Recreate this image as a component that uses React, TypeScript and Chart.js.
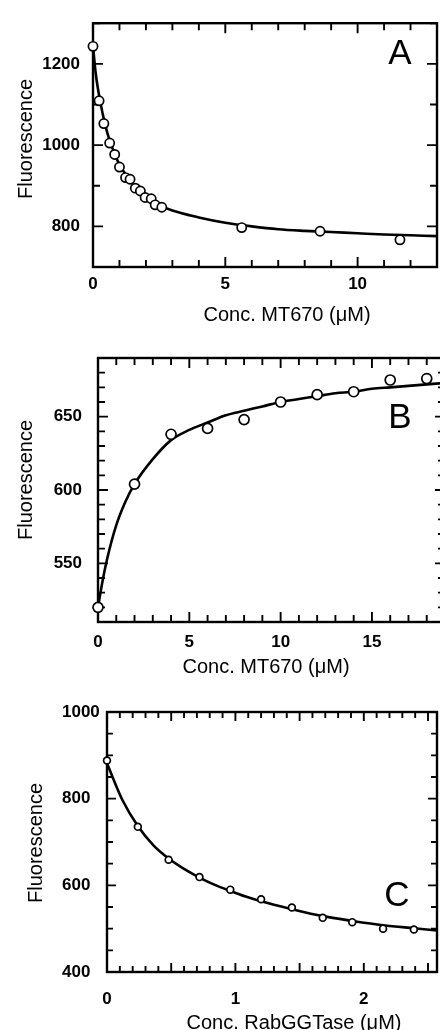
import React, { useEffect, useRef } from "react";
import { Chart, registerables } from "chart.js";

Chart.register(...registerables);

const FONT = '"Liberation Sans", Arial, Helvetica, sans-serif';

// ---------- Panel A ----------
const A_X = [0, 0.23, 0.41, 0.63, 0.82, 1.0, 1.23, 1.4, 1.6, 1.79, 1.97, 2.2, 2.35, 2.6, 5.62, 8.58, 11.6];
const A_Y = [1243, 1109, 1053, 1005, 977, 946, 920, 916, 894, 887, 871, 868, 853, 847, 797, 788, 767];
const A_FIT_X = [0, 0.1, 0.25, 0.5, 0.75, 1, 1.5, 2, 2.5, 3, 4, 5, 6, 7, 8, 9, 10, 11, 12, 13];
const A_FIT_Y = [1245, 1178, 1115, 1040, 990, 952, 906, 876, 853, 839, 822, 809, 800, 793, 789, 786, 783, 780, 778, 776];
const A_X_TICKS = [0, 5, 10];
const A_Y_TICKS = [800, 1000, 1200];

// ---------- Panel B ----------
const B_X = [0, 2, 4, 6, 8, 10, 12, 14, 16, 18];
const B_Y = [520, 604, 638, 642, 648, 660, 665, 667, 675, 676];
const B_FIT_X = [0, 0.25, 0.5, 1, 1.5, 2, 3, 4, 5, 6, 7, 8, 9, 10, 11, 12, 13, 14, 15, 16, 17, 18, 19];
const B_FIT_Y = [520, 538, 553, 576, 592, 604, 621, 634, 641, 646, 651, 654, 657, 660, 662, 664, 666, 667, 669, 670, 671, 672, 673];
const B_X_TICKS = [0, 5, 10, 15];
const B_Y_TICKS = [550, 600, 650];

// ---------- Panel C ----------
const C_X = [0, 0.24, 0.48, 0.72, 0.96, 1.2, 1.44, 1.68, 1.91, 2.15, 2.39];
const C_Y = [888, 735, 659, 619, 590, 568, 549, 525, 515, 500, 498];
const C_FIT_X = [0, 0.05, 0.12, 0.24, 0.36, 0.48, 0.6, 0.72, 0.84, 0.96, 1.08, 1.2, 1.44, 1.68, 1.91, 2.15, 2.39, 2.57];
const C_FIT_Y = [882, 845, 797, 737, 693, 662, 638, 618, 601, 587, 574, 563, 545, 529, 518, 508, 501, 496];
const C_X_TICKS = [0, 1, 2];
const C_Y_TICKS = [400, 600, 800, 1000];

const X_TITLE_MT = "Conc. MT670 (\u03bcM)";
const X_TITLE_RAB = "Conc. RabGGTase (\u03bcM)";
const Y_TITLE = "Fluorescence";

const toPts = (xs: number[], ys: number[]) => xs.map((x, i) => ({ x, y: ys[i] }));

const frameTicksPlugin = {
  id: "frameTicks",
  beforeDatasetsDraw(chart: any, _args: any, opts: any) {
    const { ctx, chartArea } = chart;
    const { left, right, top, bottom } = chartArea;
    const xs = chart.scales.x;
    const ys = chart.scales.y;
    ctx.save();
    ctx.strokeStyle = "#000";
    ctx.lineCap = "butt";
    ctx.lineWidth = opts.tickWidth;
    const isMult = (v: number, s: number) => Math.abs(v / s - Math.round(v / s)) < 1e-6;
    const xk0 = Math.ceil(xs.min / opts.xMinor - 1e-9);
    const xk1 = Math.floor(xs.max / opts.xMinor + 1e-9);
    for (let k = xk0; k <= xk1; k++) {
      const v = k * opts.xMinor;
      const len = isMult(v, opts.xMajor) ? opts.majorLen : opts.minorLen;
      const px = xs.getPixelForValue(v);
      ctx.beginPath();
      ctx.moveTo(px, bottom);
      ctx.lineTo(px, bottom - len);
      ctx.moveTo(px, top);
      ctx.lineTo(px, top + len);
      ctx.stroke();
    }
    const yk0 = Math.ceil(ys.min / opts.yMinor - 1e-9);
    const yk1 = Math.floor(ys.max / opts.yMinor + 1e-9);
    for (let k = yk0; k <= yk1; k++) {
      const v = k * opts.yMinor;
      const len = isMult(v, opts.yMajor) ? opts.majorLen : opts.minorLen;
      const py = ys.getPixelForValue(v);
      ctx.beginPath();
      ctx.moveTo(left, py);
      ctx.lineTo(left + len, py);
      ctx.moveTo(right, py);
      ctx.lineTo(right - len, py);
      ctx.stroke();
    }
    ctx.lineWidth = opts.frameWidth;
    ctx.strokeRect(left, top, right - left, bottom - top);
    ctx.restore();
  },
};

const textPlugin = {
  id: "panelTexts",
  afterDraw(chart: any, _args: any, opts: any) {
    const { ctx } = chart;
    ctx.save();
    ctx.fillStyle = "#000";
    for (const t of opts.items || []) {
      ctx.save();
      ctx.font = `${t.size}px ${FONT}`;
      ctx.textAlign = "center";
      ctx.textBaseline = "alphabetic";
      ctx.translate(t.x, t.y);
      if (t.rotate) ctx.rotate(-Math.PI / 2);
      ctx.fillText(t.text, 0, 0);
      ctx.restore();
    }
    ctx.restore();
  },
};

type PanelDef = {
  w: number;
  h: number;
  pts: { x: number; y: number }[];
  fit: { x: number; y: number }[];
  xMin: number;
  xMax: number;
  yMin: number;
  yMax: number;
  xTicks: number[];
  yTicks: number[];
  xMinor: number;
  xMajor: number;
  yMinor: number;
  yMajor: number;
  majorLen: number;
  minorLen: number;
  padding: { top: number; right: number; left: number; bottom: number };
  yWidth: number;
  xHeight: number;
  xPad: number;
  yPad: number;
  yFar: boolean;
  radius: number;
  texts: any[];
};

function makeConfig(p: PanelDef): any {
  const tickFont = { family: FONT, size: 17, weight: "bold" as const };
  return {
    type: "scatter",
    data: {
      datasets: [
        {
          data: p.pts,
          showLine: false,
          pointRadius: p.radius,
          pointBackgroundColor: "#fff",
          pointBorderColor: "#000",
          pointBorderWidth: 1.7,
          clip: false,
          order: 0,
        },
        {
          data: p.fit,
          showLine: true,
          borderColor: "#000",
          borderWidth: 2.6,
          pointRadius: 0,
          cubicInterpolationMode: "monotone",
          fill: false,
          clip: false,
          order: 1,
        },
      ],
    },
    options: {
      responsive: false,
      maintainAspectRatio: false,
      animation: false,
      devicePixelRatio: 1,
      events: [],
      layout: { padding: p.padding, autoPadding: false },
      plugins: {
        legend: { display: false },
        tooltip: { enabled: false },
        title: { display: false },
        frameTicks: {
          xMinor: p.xMinor,
          xMajor: p.xMajor,
          yMinor: p.yMinor,
          yMajor: p.yMajor,
          majorLen: p.majorLen,
          minorLen: p.minorLen,
          tickWidth: 1.9,
          frameWidth: 2.4,
        },
        panelTexts: { items: p.texts },
      },
      scales: {
        x: {
          type: "linear",
          min: p.xMin,
          max: p.xMax,
          grid: { display: false, drawTicks: false },
          border: { display: false },
          ticks: {
            color: "#000",
            font: tickFont,
            padding: p.xPad,
            maxRotation: 0,
            autoSkip: false,
            callback: (v: any) => String(v),
          },
          afterBuildTicks: (s: any) => {
            s.ticks = p.xTicks.map((v) => ({ value: v }));
          },
          afterFit: (s: any) => {
            s.height = p.xHeight;
          },
        },
        y: {
          type: "linear",
          min: p.yMin,
          max: p.yMax,
          grid: { display: false, drawTicks: false },
          border: { display: false },
          ticks: {
            color: "#000",
            font: tickFont,
            padding: p.yPad,
            autoSkip: false,
            crossAlign: p.yFar ? "far" : "near",
            callback: (v: any) => String(v),
          },
          afterBuildTicks: (s: any) => {
            s.ticks = p.yTicks.map((v) => ({ value: v }));
          },
          afterFit: (s: any) => {
            s.width = p.yWidth;
          },
        },
      },
    },
    plugins: [frameTicksPlugin, textPlugin],
  };
}

const PANEL_A: PanelDef = {
  w: 440,
  h: 330,
  pts: toPts(A_X, A_Y),
  fit: toPts(A_FIT_X, A_FIT_Y),
  xMin: 0,
  xMax: 13,
  yMin: 700,
  yMax: 1300,
  xTicks: A_X_TICKS,
  yTicks: A_Y_TICKS,
  xMinor: 1,
  xMajor: 5,
  yMinor: 100,
  yMajor: 200,
  majorLen: 10,
  minorLen: 7,
  padding: { top: 14, right: 3, left: 0, bottom: 0 },
  yWidth: 93,
  xHeight: 63,
  xPad: 7,
  yPad: 13,
  yFar: false,
  radius: 4.6,
  texts: [
    { text: X_TITLE_MT, x: 287, y: 321, size: 20 },
    { text: Y_TITLE, x: 32, y: 139, size: 20, rotate: true },
    { text: "A", x: 400, y: 64, size: 35 },
  ],
};

const PANEL_B: PanelDef = {
  w: 460,
  h: 350,
  pts: toPts(B_X, B_Y),
  fit: toPts(B_FIT_X, B_FIT_Y),
  xMin: 0,
  xMax: 19,
  yMin: 510,
  yMax: 690,
  xTicks: B_X_TICKS,
  yTicks: B_Y_TICKS,
  xMinor: 1,
  xMajor: 5,
  yMinor: 10,
  yMajor: 50,
  majorLen: 10,
  minorLen: 7,
  padding: { top: 28, right: 15, left: 0, bottom: 0 },
  yWidth: 98,
  xHeight: 58,
  xPad: 10,
  yPad: 16,
  yFar: false,
  radius: 5,
  texts: [
    { text: X_TITLE_MT, x: 266, y: 343, size: 20 },
    { text: Y_TITLE, x: 32, y: 150, size: 20, rotate: true },
    { text: "B", x: 400, y: 98, size: 35 },
  ],
};

const PANEL_C: PanelDef = {
  w: 440,
  h: 350,
  pts: toPts(C_X, C_Y),
  fit: toPts(C_FIT_X, C_FIT_Y),
  xMin: 0,
  xMax: 2.57,
  yMin: 400,
  yMax: 1000,
  xTicks: C_X_TICKS,
  yTicks: C_Y_TICKS,
  xMinor: 0.1,
  xMajor: 0.5,
  yMinor: 50,
  yMajor: 200,
  majorLen: 9,
  minorLen: 6,
  padding: { top: 32, right: 3, left: 62, bottom: 0 },
  yWidth: 45,
  xHeight: 58,
  xPad: 17,
  yPad: 5,
  yFar: true,
  radius: 3.4,
  texts: [
    { text: X_TITLE_RAB, x: 294, y: 349, size: 20 },
    { text: Y_TITLE, x: 42, y: 163, size: 20, rotate: true },
    { text: "C", x: 397, y: 226, size: 35 },
  ],
};

function Panel({ def, top }: { def: PanelDef; top: number }) {
  const ref = useRef<HTMLCanvasElement | null>(null);
  useEffect(() => {
    if (!ref.current) return;
    const chart = new Chart(ref.current, makeConfig(def));
    return () => chart.destroy();
  }, [def]);
  return (
    <div style={{ position: "absolute", left: 0, top, width: 440, height: def.h, overflow: "hidden" }}>
      <canvas ref={ref} width={def.w} height={def.h} style={{ display: "block", width: def.w, height: def.h }} />
    </div>
  );
}

export default function App() {
  return (
    <div
      style={{
        position: "absolute",
        left: 0,
        top: 0,
        width: 440,
        height: 1030,
        overflow: "hidden",
        background: "#fff",
      }}
    >
      <Panel def={PANEL_A} top={0} />
      <Panel def={PANEL_B} top={330} />
      <Panel def={PANEL_C} top={680} />
    </div>
  );
}
